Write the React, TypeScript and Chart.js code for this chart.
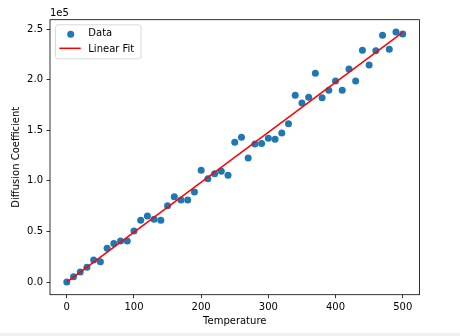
import React, { useEffect, useRef } from "react";
import { Chart, registerables } from "chart.js";

Chart.register(...registerables);

const temperatures = [
  0, 10, 20, 30, 40, 50, 60, 70, 80, 90, 100, 110, 120, 130, 140, 150, 160, 170, 180, 190,
  200, 210, 220, 230, 240, 250, 260, 270, 280, 290, 300, 310, 320, 330, 340, 350, 360, 370,
  380, 390, 400, 410, 420, 430, 440, 450, 460, 470, 480, 490, 500,
];
const diffusion = [
  0, 5200, 10000, 14500, 21700, 20000, 33300, 38200, 40500, 40500, 50400, 61000, 65200, 62000,
  61000, 75400, 84300, 81000, 81000, 88900, 110400, 102100, 107000, 109400, 105400, 138000,
  143000, 122500, 136400, 137000, 142000, 141000, 147200, 156400, 184500, 176900, 182500,
  206200, 182100, 189400, 198600, 189400, 210500, 198600, 229000, 214400, 228600, 243800,
  230000, 247000, 245000,
];
const xTicks = [0, 100, 200, 300, 400, 500];
const yTicks = [0, 50000, 100000, 150000, 200000, 250000];

function linearFit(xs: number[], ys: number[]) {
  const n = xs.length;
  const mx = xs.reduce((a, b) => a + b, 0) / n;
  const my = ys.reduce((a, b) => a + b, 0) / n;
  let sxy = 0;
  let sxx = 0;
  for (let i = 0; i < n; i++) {
    sxy += (xs[i] - mx) * (ys[i] - my);
    sxx += (xs[i] - mx) * (xs[i] - mx);
  }
  const m = sxy / sxx;
  return { m, b: my - m * mx };
}

export default function App() {
  const ref = useRef<HTMLCanvasElement | null>(null);

  useEffect(() => {
    document.body.style.margin = "0";
    document.body.style.background = "#f0f0f0";
    const canvas = ref.current;
    if (!canvas) return;
    Chart.defaults.font.family = "'DejaVu Sans', sans-serif";
    Chart.defaults.font.size = 10;
    Chart.defaults.color = "#000";

    const fit = linearFit(temperatures, diffusion);
    const x0 = temperatures[0];
    const x1 = temperatures[temperatures.length - 1];

    const framePlugin = {
      id: "frame",
      beforeDraw(chart: any) {
        const { ctx, width, height } = chart;
        ctx.save();
        ctx.fillStyle = "#fff";
        ctx.fillRect(0, 0, width, height);
        ctx.restore();
      },
      afterDraw(chart: any) {
        const { ctx, chartArea: a } = chart;
        ctx.save();
        ctx.strokeStyle = "#000";
        ctx.lineWidth = 0.8;
        ctx.strokeRect(a.left, a.top, a.right - a.left, a.bottom - a.top);
        // offset text
        ctx.fillStyle = "#000";
        ctx.font = "10px 'DejaVu Sans', sans-serif";
        ctx.textAlign = "left";
        ctx.textBaseline = "alphabetic";
        ctx.fillText("1e5", a.left, a.top - 3.5);
        // legend
        const bx = a.left + 5;
        const by = a.top + 4.6;
        const bw = 85.5;
        const bh = 34;
        ctx.beginPath();
        ctx.roundRect(bx + 0.5, by + 0.5, bw, bh, 2.5);
        ctx.fillStyle = "rgba(255,255,255,0.8)";
        ctx.fill();
        ctx.strokeStyle = "#d9d9d9";
        ctx.lineWidth = 1;
        ctx.stroke();
        ctx.beginPath();
        ctx.arc(bx + 15.7, by + 10, 3.5, 0, Math.PI * 2);
        ctx.fillStyle = "#1f77b4";
        ctx.fill();
        ctx.beginPath();
        ctx.moveTo(bx + 4.3, by + 24);
        ctx.lineTo(bx + 25.7, by + 24);
        ctx.strokeStyle = "#ff0000";
        ctx.lineWidth = 1.5;
        ctx.stroke();
        ctx.fillStyle = "#000";
        ctx.textBaseline = "alphabetic";
        ctx.fillText("Data", bx + 33.3, by + 11.6);
        ctx.fillText("Linear Fit", bx + 33.3, by + 28);
        ctx.restore();
      },
    };

    const chart = new Chart(canvas, {
      type: "scatter",
      data: {
        datasets: [
          {
            label: "Linear Fit",
            data: [
              { x: x0, y: fit.m * x0 + fit.b },
              { x: x1, y: fit.m * x1 + fit.b },
            ],
            showLine: true,
            borderColor: "#ff0000",
            borderWidth: 1.5,
            pointRadius: 0,
            order: 0,
          },
          {
            label: "Data",
            data: temperatures.map((t, i) => ({ x: t, y: diffusion[i] })),
            backgroundColor: "#1f77b4",
            borderWidth: 0,
            pointRadius: 3.5,
            order: 1,
          },
        ],
      },
      options: {
        responsive: false,
        animation: false,
        devicePixelRatio: 1,
        layout: { padding: { left: 10, top: 19.7, right: 40.5, bottom: 6 } },
        plugins: { legend: { display: false }, tooltip: { enabled: false } },
        scales: {
          x: {
            type: "linear",
            min: -25,
            max: 525,
            afterBuildTicks: (s: any) => {
              s.ticks = xTicks.map((v) => ({ value: v }));
            },
            afterFit: (s: any) => {
              s.height = 32.3;
            },
            grid: {
              drawOnChartArea: false,
              drawTicks: true,
              tickLength: 3.5,
              color: "#000",
              lineWidth: 0.8,
            },
            border: { display: false },
            ticks: { padding: 3.5, maxRotation: 0, autoSkip: false, color: "#000" },
            title: { display: true, text: "Temperature", padding: 0, color: "#000" },
          },
          y: {
            type: "linear",
            min: -12500,
            max: 259200,
            afterBuildTicks: (s: any) => {
              s.ticks = yTicks.map((v) => ({ value: v }));
            },
            afterFit: (s: any) => {
              s.width = 40;
            },
            grid: {
              drawOnChartArea: false,
              drawTicks: true,
              tickLength: 3.5,
              color: "#000",
              lineWidth: 0.8,
            },
            border: { display: false },
            ticks: {
              padding: 3.5,
              autoSkip: false,
              color: "#000",
              callback: (v: any) => (Number(v) / 1e5).toFixed(1),
            },
            title: { display: true, text: "Diffusion Coefficient", padding: 0, color: "#000" },
          },
        },
      },
      plugins: [framePlugin],
    });
    return () => chart.destroy();
  }, []);

  return (
    <div style={{ width: 460, height: 333 }}>
      <canvas ref={ref} width={460} height={333} style={{ display: "block" }} />
    </div>
  );
}
